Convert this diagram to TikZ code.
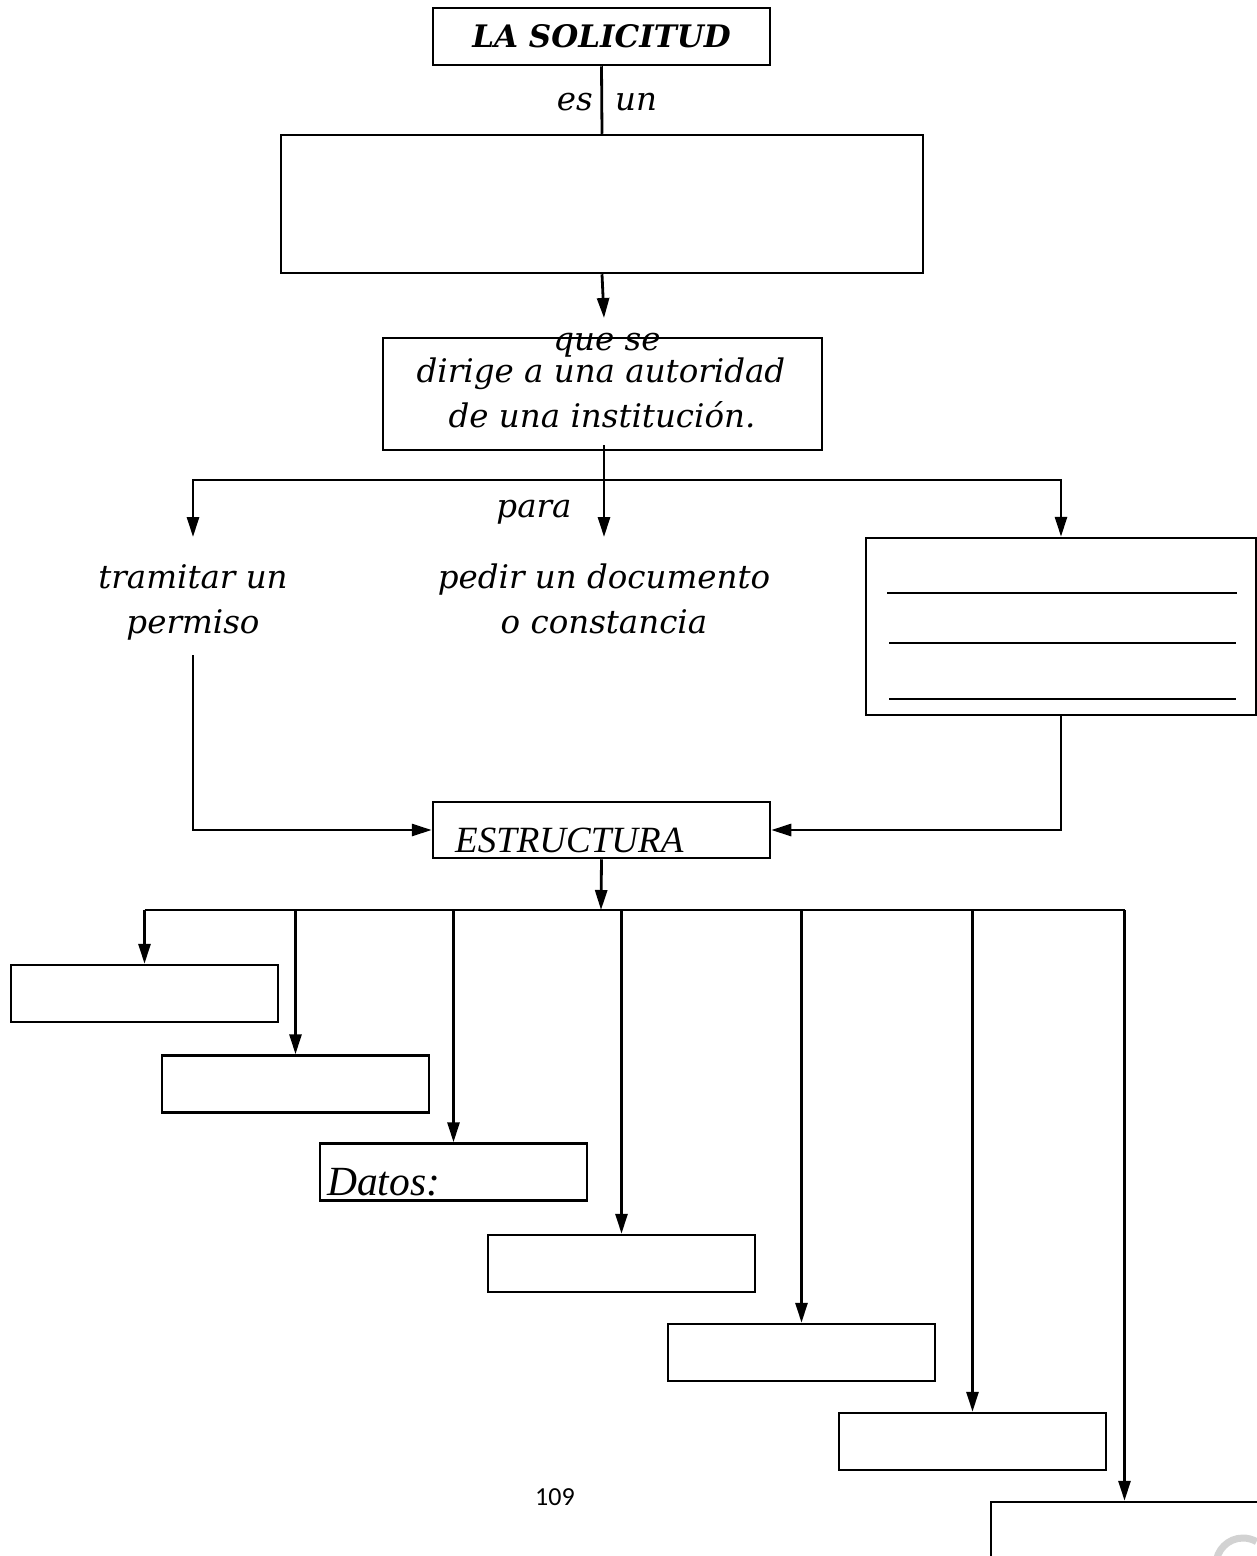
\documentclass[tikz,border=0pt]{standalone}
\usepackage{fontspec}
\setmainfont{DejaVu Serif}
\newfontfamily\tmsfont{Liberation Serif}
\newfontfamily\pagefont{Carlito}
\usetikzlibrary{arrows.meta}
\begin{document}
\begin{tikzpicture}[x=1pt,y=-1pt,
  box/.style={draw, line width=2.5pt, minimum width=267pt, minimum height=57pt, inner sep=0pt},
  conn/.style={line width=2.8pt},
  arr/.style={conn, -{Triangle[length=20pt,width=12pt]}},
  lbl/.style={font=\fontsize{32.5}{38}\selectfont\itshape, anchor=base, inner sep=0pt},
  tms/.style={font=\tmsfont\fontsize{37}{40}\selectfont\itshape, inner sep=0pt}]
\clip (0,0) rectangle (1257,1556);
\fill[white] (0,0) rectangle (1257,1556);

% title and definition
\node[box, minimum width=337pt, minimum height=57pt, font=\fontsize{31}{36}\selectfont\bfseries\itshape] (title) at (601.5,36.5) {LA SOLICITUD};
\node[box, minimum width=642pt, minimum height=138pt] (def) at (602,204) {};
\draw[conn] (title.south) -- (def.north);
\node[lbl, anchor=base east] (es) at (593,110) {es};
\node[lbl, anchor=base west] (un) at (615,110) {un};

% dirige box
\node[box, minimum width=439pt, minimum height=112pt] (dir) at (602.5,394) {};
\node[lbl] (q1) at (607,350) {que se};
\node[lbl] (q2) at (601,382) {dirige a una autoridad};
\node[lbl] (q3) at (602,427) {de una institución.};
\coordinate (a1) at (604,318);
\draw[arr] (def.south) -- (a1);

% branches
\coordinate (dirb) at (604,445);
\coordinate (j1) at (604,480);
\coordinate (tL) at (193,537);
\coordinate (tM) at (604,537);
\node[draw, line width=2.5pt, minimum width=390pt, minimum height=177pt, inner sep=0pt] (rb) at (1061,626.5) {};
\draw[arr] (dirb) -- (tM);
\draw[conn] (tL |- j1) -- (rb.north |- j1);
\draw[arr] (j1) -| (tL);
\draw[arr] (j1) -| (rb.north);
\node[lbl] (para) at (534,517) {para};
\node[lbl] (tr1) at (193,588) {tramitar un};
\node[lbl] (tr2) at (193,633) {permiso};
\node[lbl] (pd1) at (604,588) {pedir un documento};
\node[lbl] (pd2) at (604,633) {o constancia};
\draw[line width=2.5pt] (887,593) -- (1237,593);
\draw[line width=1.5pt] (889,643) -- (1236,643);
\draw[line width=1.5pt] (889,699) -- (1236,699);

% estructura
\node[draw, line width=2.5pt, minimum width=337pt, minimum height=56pt, inner sep=0pt] (est) at (601.5,830) {};
\node[tms, anchor=base west] (esttxt) at (455,852) {ESTRUCTURA};
\coordinate (tl0) at (193,655);
\draw[arr] (tl0) |- (est.west);
\draw[arr] (rb.south) |- (est.east);

% bottom boxes
\node[box] (b1) at (144.5,993.5) {};
\node[box] (b2) at (295.5,1084) {};
\node[box] (b3) at (453.5,1172) {};
\node[box] (b4) at (621.5,1263.5) {};
\node[box] (b5) at (801.5,1352.5) {};
\node[box] (b6) at (972.5,1441.5) {};
\node[box] (b7) at (1124.5,1530.5) {};
\node[tms, font=\tmsfont\fontsize{41.5}{44}\selectfont\itshape, anchor=base west] (datos) at (327,1195) {Datos:};

\coordinate (bus) at (601,910);
\draw[arr] (est.south) -- (bus);
\draw[conn] (b1.north |- bus) -- (b7.north |- bus);
\foreach \b in {b1,b2,b3,b4,b5,b6,b7}{
  \draw[arr] (\b.north |- bus) -- (\b.north);
}

\node[anchor=base, font=\pagefont\fontsize{26}{30}\selectfont, inner sep=0pt] (page) at (555,1505) {109};
\draw[gray!35, line width=7pt] (1216,1565) arc[start angle=180, end angle=300, radius=27];
\end{tikzpicture}
\end{document}
